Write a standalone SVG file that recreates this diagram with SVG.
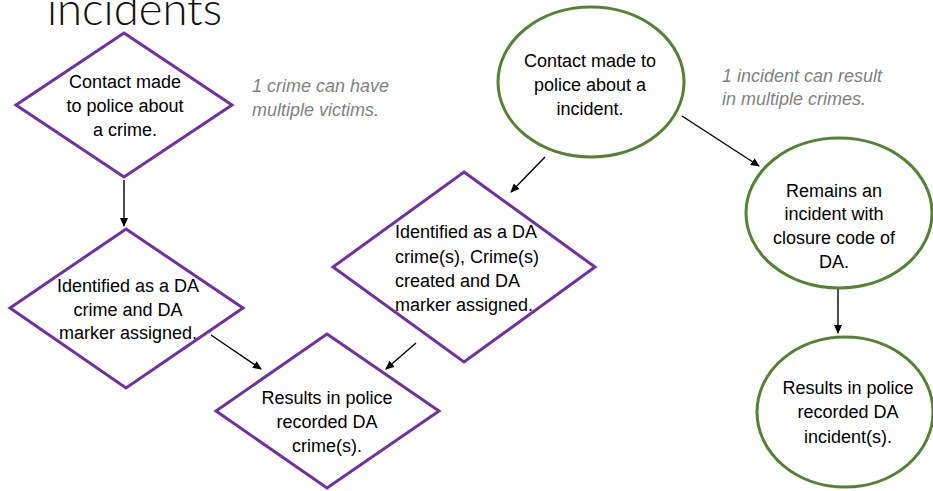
<svg xmlns="http://www.w3.org/2000/svg" width="933" height="491" viewBox="0 0 933 491">
<defs>
<marker id="arr" markerUnits="userSpaceOnUse" markerWidth="9" markerHeight="8" refX="8" refY="4" orient="auto">
<path d="M0,0 L9,4 L0,8 z" fill="#000"/>
</marker>
<style>
.d{fill:#fff;stroke:#7030A0;stroke-width:3;stroke-linejoin:miter}
.c{fill:#fff;stroke:#548235;stroke-width:3}
.t{font-family:"Liberation Sans",Arial,sans-serif;font-size:18px;fill:#000;text-anchor:middle}
.l{font-family:"Liberation Sans",Arial,sans-serif;font-size:18px;fill:#000}
.n{font-family:"Liberation Sans",Arial,sans-serif;font-size:18px;font-style:italic;fill:#7f7f7f}
.e{stroke:#000;stroke-width:1.4;fill:none;marker-end:url(#arr)}
</style>
</defs>
<rect width="933" height="491" fill="#fff"/>
<text x="47" y="25" font-family="Lato,'Open Sans',sans-serif" font-size="45" font-weight="300" fill="#111" textLength="175" lengthAdjust="spacingAndGlyphs">incidents</text>
<g id="connectors">
<line class="e" x1="124" y1="180" x2="124" y2="226"/>
<line class="e" x1="211" y1="335" x2="261" y2="369"/>
<line class="e" x1="416" y1="343" x2="386" y2="369"/>
<line class="e" x1="545" y1="157" x2="511" y2="192"/>
<line class="e" x1="682" y1="116" x2="759" y2="166"/>
<line class="e" x1="838" y1="289" x2="838" y2="333"/>
</g>
<g id="node-contact-crime">
<polygon class="d" points="124,33 232,105 124,177 16,105"/>
<text class="t" x="125" y="88">Contact made</text>
<text class="t" x="125" y="112">to police about</text>
<text class="t" x="125" y="136">a crime.</text>
</g>
<g id="note-crime">
<text class="n" x="252" y="92">1 crime can have</text>
<text class="n" x="252" y="116">multiple victims.</text>
</g>
<g id="node-identified-crime">
<polygon class="d" points="126,229 243,308 126,388 10,308"/>
<text class="t" x="128" y="292">Identified as a DA</text>
<text class="t" x="128" y="316">crime and DA</text>
<text class="t" x="128" y="339">marker assigned.</text>
</g>
<g id="node-results-crime">
<polygon class="d" points="327,334 439,411 327,488 216,411"/>
<text class="t" x="327" y="404">Results in police</text>
<text class="t" x="327" y="428">recorded DA</text>
<text class="t" x="327" y="452">crime(s).</text>
</g>
<g id="node-identified-crimes">
<polygon class="d" points="464,172 595,267 464,362 333,267"/>
<text class="l" x="395" y="238">Identified as a DA</text>
<text class="l" x="395" y="263">crime(s), Crime(s)</text>
<text class="l" x="395" y="287">created and DA</text>
<text class="l" x="395" y="311">marker assigned.</text>
</g>
<g id="node-contact-incident">
<ellipse class="c" cx="591" cy="82" rx="93" ry="75"/>
<text class="t" x="590" y="67">Contact made to</text>
<text class="t" x="590" y="91">police about a</text>
<text class="t" x="590" y="115">incident.</text>
</g>
<g id="note-incident">
<text class="n" x="722" y="82">1 incident can result</text>
<text class="n" x="722" y="105">in multiple crimes.</text>
</g>
<g id="node-remains-incident">
<ellipse class="c" cx="839" cy="213" rx="93" ry="75"/>
<text class="t" x="834" y="197">Remains an</text>
<text class="t" x="834" y="220">incident with</text>
<text class="t" x="834" y="244">closure code of</text>
<text class="t" x="834" y="268">DA.</text>
</g>
<g id="node-results-incident">
<ellipse class="c" cx="845" cy="412" rx="88" ry="75"/>
<text class="t" x="848" y="394">Results in police</text>
<text class="t" x="848" y="418">recorded DA</text>
<text class="t" x="848" y="443">incident(s).</text>
</g>
</svg>
